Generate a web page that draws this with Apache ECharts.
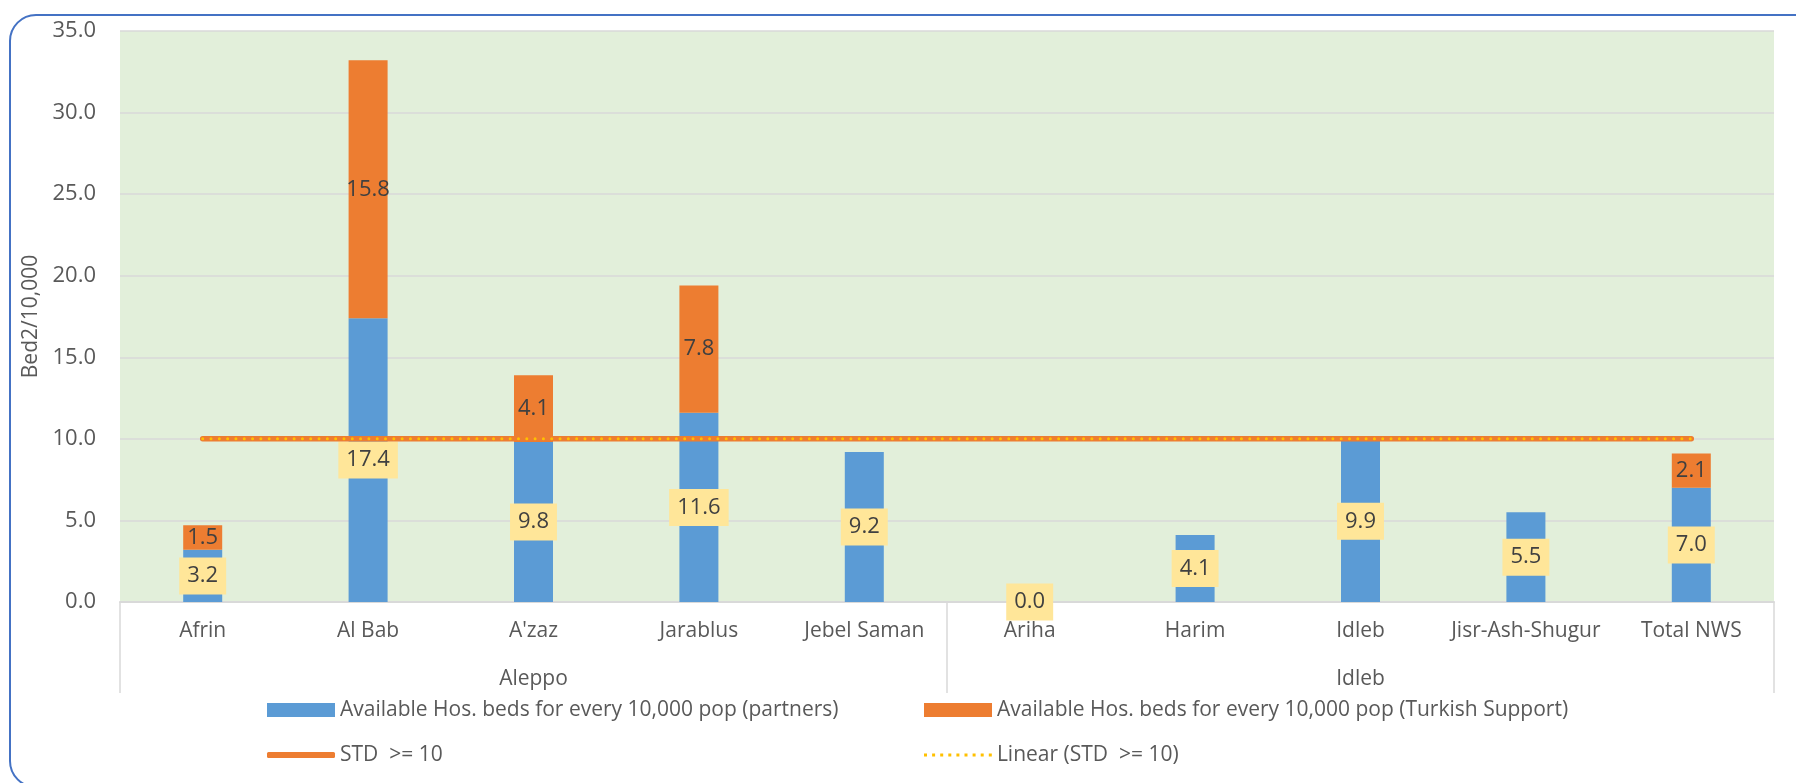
<!DOCTYPE html>
<html>
<head>
<meta charset="utf-8">
<script src="https://cdn.jsdelivr.net/npm/echarts@6/dist/echarts.min.js"></script>
<style>
  html, body { margin: 0; padding: 0; background: #ffffff; overflow: hidden; }
  #chart-beds { width: 1796px; height: 783px; }
</style>
</head>
<body>
<div id="chart-beds"></div>
<script>
var districts = ['Afrin', 'Al Bab', "A'zaz", 'Jarablus', 'Jebel Saman', 'Ariha', 'Harim', 'Idleb', 'Jisr-Ash-Shugur', 'Total NWS'];
var governorates = ['Aleppo', 'Idleb'];
var partnerBeds = [3.2, 17.4, 9.8, 11.6, 9.2, 0.0, 4.1, 9.9, 5.5, 7.0];
var turkishBeds = [1.5, 15.8, 4.1, 7.8, null, null, null, null, null, 2.1];
var stdLine = [10, 10, 10, 10, 10, 10, 10, 10, 10, 10];
var linearStd = [10, 10, 10, 10, 10, 10, 10, 10, 10, 10];
var yTicks = [0, 5, 10, 15, 20, 25, 30, 35];

var namePartners = 'Available Hos. beds for every 10,000 pop (partners)';
var nameTurkish = 'Available Hos. beds for every 10,000 pop (Turkish Support)';
var nameStd = 'STD  >= 10';
var nameLinear = 'Linear (STD  >= 10)';

var fontFam = 'Open Sans';
var grey = '#595959';

// dotted legend icon (row of small dots, 68 wide)
function dottedIcon() {
    var p = 'path://';
    for (var i = 0; i < 9; i++) {
        var x = (i * 8.1).toFixed(1);
        p += 'M' + x + ',0h3v3h-3z';
    }
    return p;
}

function renderBedsChart() {
    var chartDom = document.getElementById('chart-beds');
    var myChart = echarts.init(chartDom);

    function legendAt(name, left, top, icon, h) {
        return {
            data: [{ name: name, icon: icon }],
            left: left,
            top: top,
            padding: 0,
            itemWidth: 68,
            itemHeight: h,
            selectedMode: false,
            textStyle: { color: grey, fontSize: 21, fontFamily: fontFam, lineHeight: 22 }
        };
    }

    var option = {
        animation: false,
        graphic: [{
            type: 'rect',
            shape: { x: 10, y: 15, width: 1860, height: 772, r: 26 },
            style: { fill: 'none', stroke: '#4472C4', lineWidth: 2 },
            silent: true
        }],
        legend: [
            legendAt(namePartners, 267, 699, 'rect', 14),
            legendAt(nameTurkish, 924, 699, 'rect', 14),
            legendAt(nameStd, 267, 744, 'roundRect', 6),
            legendAt(nameLinear, 924, 744, dottedIcon(), 3)
        ],
        grid: {
            left: 120,
            right: 22,
            top: 31,
            bottom: 181,
            show: true,
            backgroundColor: '#E2EFDA',
            borderWidth: 0
        },
        xAxis: [{
            type: 'category',
            data: districts,
            position: 'bottom',
            axisLine: { lineStyle: { color: '#D9D9D9', width: 2 } },
            axisTick: { show: false },
            axisLabel: { color: grey, fontSize: 21, fontFamily: fontFam, margin: 19, interval: 0 }
        }, {
            type: 'category',
            data: governorates,
            position: 'bottom',
            offset: 0,
            axisLine: { show: false },
            axisTick: { show: true, length: 91, interval: 0, lineStyle: { color: '#D9D9D9', width: 1.5 } },
            axisLabel: { color: grey, fontSize: 21, fontFamily: fontFam, margin: 67 },
            splitLine: { show: false }
        }],
        yAxis: {
            type: 'value',
            min: yTicks[0],
            max: yTicks[yTicks.length - 1],
            interval: 5,
            name: 'Bed2/10,000',
            nameLocation: 'middle',
            nameGap: 78,
            nameRotate: 90,
            nameTextStyle: { color: grey, fontSize: 21, fontFamily: fontFam },
            axisLine: { show: false },
            axisTick: { show: false },
            axisLabel: {
                color: grey,
                fontSize: 22,
                fontFamily: fontFam,
                margin: 24,
                formatter: function(v) { return v.toFixed(1); }
            },
            splitLine: { lineStyle: { color: '#D9D9D9', width: 1.5 } }
        },
        series: [{
            name: namePartners,
            type: 'bar',
            stack: 'beds',
            data: partnerBeds,
            barWidth: 39,
            itemStyle: { color: '#5B9BD5' },
            label: {
                show: true,
                position: 'inside',
                color: '#404040',
                fontSize: 22,
                fontFamily: fontFam,
                backgroundColor: '#FFE699',
                padding: [8, 8, 7, 8],
                formatter: function(p) { return p.value.toFixed(1); }
            }
        }, {
            name: nameTurkish,
            type: 'bar',
            stack: 'beds',
            data: turkishBeds,
            barWidth: 39,
            itemStyle: { color: '#ED7D31' },
            label: {
                show: true,
                position: 'inside',
                color: '#404040',
                fontSize: 22,
                fontFamily: fontFam,
                formatter: function(p) { return p.value == null ? '' : p.value.toFixed(1); }
            }
        }, {
            name: nameStd,
            type: 'line',
            data: stdLine,
            symbol: 'none',
            z: 5,
            itemStyle: { color: '#ED7D31' },
            lineStyle: { color: '#ED7D31', width: 5.5, cap: 'round' }
        }, {
            name: nameLinear,
            type: 'line',
            data: linearStd,
            symbol: 'none',
            z: 6,
            itemStyle: { color: '#FFC000' },
            lineStyle: { color: '#FFC000', width: 3, type: [0.01, 8.3], cap: 'round' }
        }]
    };
    myChart.setOption(option);
}

document.addEventListener('DOMContentLoaded', function() {
    renderBedsChart();
});
</script>
</body>
</html>
